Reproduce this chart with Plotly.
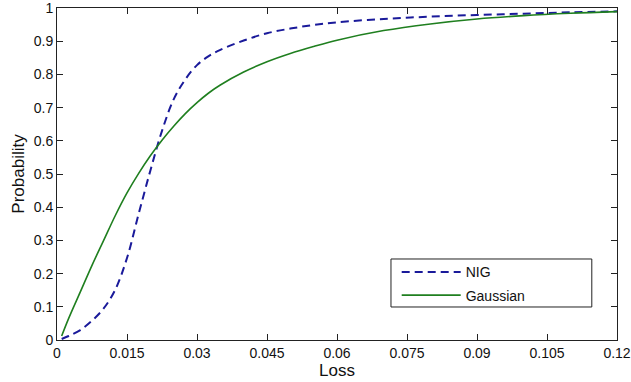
import plotly.graph_objects as go

loss = [0.001, 0.0025, 0.005, 0.0075, 0.01, 0.0125, 0.015, 0.0175, 0.02, 0.0225,
        0.025, 0.0275, 0.03, 0.0325, 0.035, 0.04, 0.045, 0.05, 0.055, 0.06,
        0.07, 0.08, 0.09, 0.1, 0.11, 0.12]

nig = [0.003, 0.012, 0.03, 0.058, 0.095, 0.152, 0.247, 0.38, 0.51, 0.63,
       0.725, 0.785, 0.828, 0.855, 0.874, 0.902, 0.924, 0.938, 0.949, 0.957,
       0.967, 0.974, 0.979, 0.983, 0.987, 0.99]

gaussian = [0.012, 0.065, 0.145, 0.225, 0.30, 0.375, 0.443, 0.502, 0.555, 0.602,
            0.644, 0.682, 0.715, 0.744, 0.768, 0.807, 0.838, 0.863, 0.884, 0.903,
            0.932, 0.952, 0.967, 0.977, 0.984, 0.989]

x_ticks = [0, 0.015, 0.03, 0.045, 0.06, 0.075, 0.09, 0.105, 0.12]
x_tick_labels = ["0", "0.015", "0.03", "0.045", "0.06", "0.075", "0.09", "0.105", "0.12"]
y_ticks = [0, 0.1, 0.2, 0.3, 0.4, 0.5, 0.6, 0.7, 0.8, 0.9, 1]
y_tick_labels = ["0", "0.1", "0.2", "0.3", "0.4", "0.5", "0.6", "0.7", "0.8", "0.9", "1"]

FONT = "Liberation Sans, Arial, sans-serif"

fig = go.Figure()
fig.add_trace(go.Scatter(x=loss, y=nig, mode="lines", name="NIG",
                         line=dict(color="#1a1a9a", width=2, dash="8px,5px", shape="spline"),
                         legendgroup="a"))
fig.add_trace(go.Scatter(x=loss, y=gaussian, mode="lines", name="Gaussian",
                         line=dict(color="#1f7f1f", width=1.6, shape="spline"),
                         legendgroup="b"))

axis_common = dict(showgrid=False, zeroline=False, showline=True, linecolor="#222",
                   linewidth=1, mirror="ticks", ticks="inside", ticklen=6,
                   tickcolor="#222", automargin=False, ticklabeloverflow="allow",
                   tickfont=dict(family=FONT, size=14, color="#111"))

fig.update_xaxes(range=[0, 0.12], tickvals=x_ticks, ticktext=x_tick_labels,
                 title=dict(text="Loss", font=dict(family=FONT, size=17, color="#111"), standoff=2),
                 **axis_common)
fig.update_yaxes(range=[0, 1], tickvals=y_ticks, ticktext=y_tick_labels,
                 title=dict(text="Probability", font=dict(family=FONT, size=17, color="#111"), standoff=4),
                 **axis_common)

fig.add_shape(type="rect", xref="paper", yref="paper",
              x0=0.5964, x1=0.955, y0=0.0994, y1=0.244,
              line=dict(color="#222", width=1), fillcolor="white", layer="below")

fig.update_layout(
    width=631, height=382,
    margin=dict(l=57, r=14, t=8, b=42),
    paper_bgcolor="white", plot_bgcolor="white",
    font=dict(family=FONT, size=14, color="#111"),
    legend=dict(x=0.6066, y=0.252, xanchor="left", yanchor="top",
                bgcolor="rgba(0,0,0,0)", borderwidth=0,
                itemwidth=59, tracegroupgap=2,
                font=dict(family=FONT, size=14, color="#111")),
    showlegend=True,
)

fig.write_html("out.html", config={"displayModeBar": False},
               post_script="document.body.style.margin='0px';document.body.style.overflow='hidden';")
